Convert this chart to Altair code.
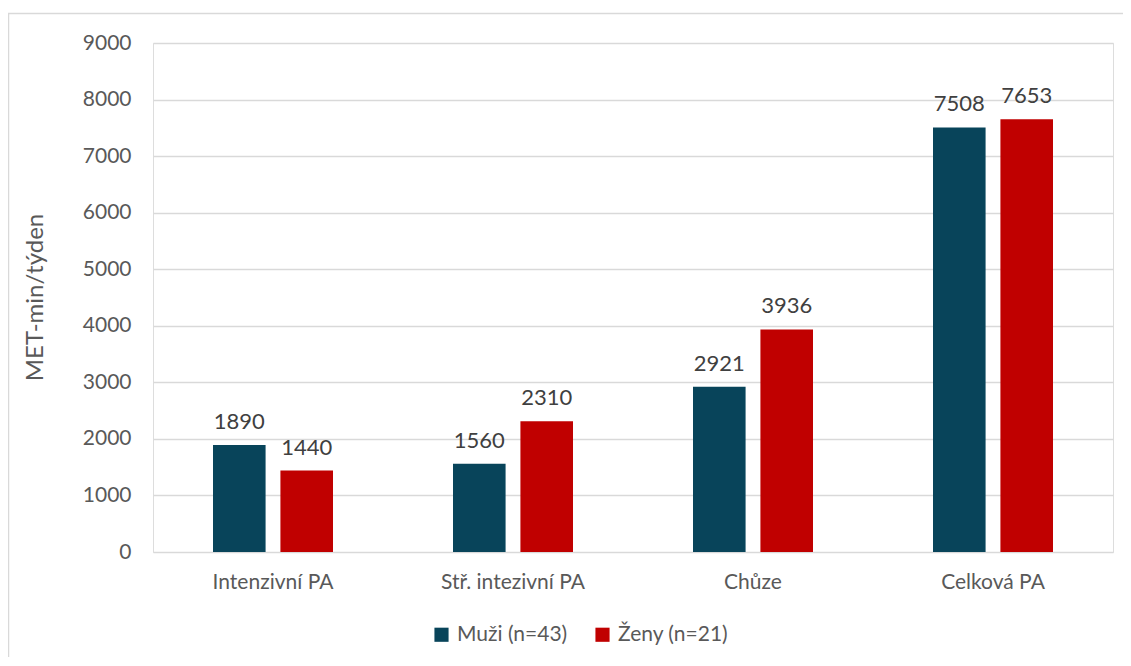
import altair as alt
import pandas as pd

categories = ["Intenzivní PA", "Stř. intezivní PA", "Chůze", "Celková PA"]
series = ["Muži (n=43)", "Ženy (n=21)"]
muzi = [1890, 1560, 2921, 7508]
zeny = [1440, 2310, 3936, 7653]
colors = ["#08445A", "#C00000"]

rows = []
for c, m, z in zip(categories, muzi, zeny):
    rows.append({"cat": c, "ser": series[0], "val": m})
    rows.append({"cat": c, "ser": series[1], "val": z})
df = pd.DataFrame(rows)

FONT = "Lato"
TXT = "#595959"

x = alt.X("cat:N", sort=categories, title=None,
          scale=alt.Scale(paddingInner=0.5, paddingOuter=0.25),
          axis=alt.Axis(labelAngle=0, labelFontSize=21, labelColor=TXT, labelFont=FONT,
                        ticks=False, domain=False, labelPadding=19))
xo = alt.XOffset("ser:N", sort=series, scale=alt.Scale(paddingInner=0.22))
y = alt.Y("val:Q", title="MET-min/týden",
          scale=alt.Scale(domain=[0, 9000], nice=False),
          axis=alt.Axis(values=list(range(0, 9001, 1000)), format="d", labelFontSize=21,
                        labelColor=TXT, labelFont=FONT, ticks=False, domain=False, labelPadding=22,
                        gridColor="#D9D9D9", gridWidth=1.3,
                        titleFontSize=24, titleColor=TXT, titleFont=FONT, titleFontWeight="normal",
                        titleAngle=-90, titleX=-118, titleY=254, titleAlign="center",
                        titleBaseline="middle"))

base = alt.Chart(df)
bars = base.mark_bar().encode(
    x=x, xOffset=xo, y=y,
    color=alt.Color("ser:N", sort=series, scale=alt.Scale(domain=series, range=colors),
                    legend=alt.Legend(title=None, orient="none", legendX=278, legendY=581,
                                      direction="horizontal", symbolType="square",
                                      symbolSize=200, symbolStrokeWidth=0,
                                      labelFontSize=21, labelColor=TXT, labelFont=FONT,
                                      columnPadding=24, symbolOffset=0, labelOffset=5)),
)
labels = base.mark_text(baseline="bottom", dy=-11, fontSize=22, color="#404040", font=FONT).encode(
    x=x, xOffset=xo, y=y, text=alt.Text("val:Q", format="d")
)
border = alt.Chart(pd.DataFrame({"a": [0]})).mark_rect(
    fill=None, stroke="#D9D9D9", strokeWidth=1.5, clip=False
).encode(x=alt.value(-144.5), x2=alt.value(1100), y=alt.value(-29.5), y2=alt.value(700))

chart = alt.layer(border, bars, labels).properties(
    width=960, height=509,
    autosize=alt.AutoSizeParams(type="none"),
    padding={"left": 145, "top": 35, "right": 10, "bottom": 105},
).configure_view(stroke=None).configure(background="white")

chart.save("out.html", embed_options={"renderer": "svg", "actions": False})
